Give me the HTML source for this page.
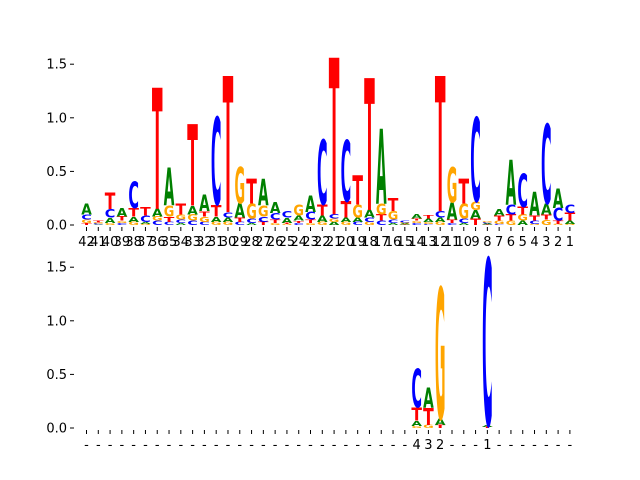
<!DOCTYPE html>
<html><head><meta charset="utf-8"><style>
html,body{margin:0;padding:0;background:#fff;}
svg{display:block;font-family:"DejaVu Sans","Liberation Sans",sans-serif;}
</style></head><body>
<svg id="chart" width="640" height="480" viewBox="0 0 640 480" xmlns="http://www.w3.org/2000/svg">
<g id="top"></g>
<g id="bot"></g>
</svg>
<script>
// Top panel data, positions listed from label 42 down to 1
const topLabels = ["42","41","40","39","38","37","36","35","34","33","32","31","30","29","28","27","26","25","24","23","22","21","20","19","18","17","16","15","14","13","12","11","10","9","8","7","6","5","4","3","2","1"];
const topA = [.10,.005,.05,.08,.05,.02,.07,.35,.02,.08,.15,.05,.04,.13,.02,.25,.10,.05,.05,.15,.06,.03,.04,.04,.07,.70,.02,.01,.04,.03,.04,.16,.02,.08,.01,.06,.42,.04,.22,.10,.18,.03];
const topC = [.05,.01,.08,.02,.25,.06,.04,.03,.03,.04,.03,.81,.05,.03,.04,.05,.06,.06,.02,.07,.60,.04,.57,.03,.04,.04,.03,.02,.02,.01,.06,.02,.04,.78,.01,.01,.09,.31,.03,.74,.12,.08];
const topG = [.03,.01,.02,.02,.03,.01,.04,.10,.05,.06,.05,.03,.03,.34,.14,.10,.02,.01,.10,.02,.03,.03,.03,.12,.03,.10,.08,.01,.02,.02,.03,.33,.14,.08,.01,.03,.04,.06,.01,.05,.01,.01];
const topT = [.02,.02,.15,.04,.08,.08,1.13,.05,.10,.76,.05,.11,1.27,.04,.23,.03,.03,.01,.02,.03,.10,1.46,.15,.27,1.23,.06,.12,.005,.02,.03,1.26,.03,.23,.06,.005,.05,.06,.07,.05,.05,.03,.07];
// Bottom panel data
const botLabels = ["-","-","-","-","-","-","-","-","-","-","-","-","-","-","-","-","-","-","-","-","-","-","-","-","-","-","-","-","4","3","2","-","-","-","1","-","-","-","-","-","-","-"];
const botA = [0,0,0,0,0,0,0,0,0,0,0,0,0,0,0,0,0,0,0,0,0,0,0,0,0,0,0,0,.05,.19,.06,0,0,0,.02,0,0,0,0,0,0,0];
const botC = [0,0,0,0,0,0,0,0,0,0,0,0,0,0,0,0,0,0,0,0,0,0,0,0,0,0,0,0,.36,0,0,0,0,0,1.55,0,0,0,0,0,0,0];
const botG = [0,0,0,0,0,0,0,0,0,0,0,0,0,0,0,0,0,0,0,0,0,0,0,0,0,0,0,0,.02,.03,1.22,0,0,0,0,0,0,0,0,0,0,0];
const botT = [0,0,0,0,0,0,0,0,0,0,0,0,0,0,0,0,0,0,0,0,0,0,0,0,0,0,0,0,.12,.16,.03,0,0,0,.01,0,0,0,0,0,0,0];
const yTicks = [0, 0.5, 1.0, 1.5];
const yTickLabels = ["0.0","0.5","1.0","1.5"];

const NS = "http://www.w3.org/2000/svg";
const colors = {A:"#008000", C:"#0000ff", G:"#ffa500", T:"#ff0000"};
const X0 = 86.5, DX = 11.79, LW = 10.6, K = 107.2;
function xPos(i){ return X0 + i*DX; }

function panel(g, y0, labels, A, C, G, T){
  const ys = v => y0 - v*K;
  for (let t=0;t<yTicks.length;t++){
    const y = ys(yTicks[t]);
    const ln = document.createElementNS(NS,"line");
    
    
    ln.setAttribute("x1",70); ln.setAttribute("x2",74); ln.setAttribute("y1",y); ln.setAttribute("y2",y);
    ln.setAttribute("stroke","#000"); ln.setAttribute("stroke-width","1");
    g.appendChild(ln);
    const tx = document.createElementNS(NS,"text");
    
    
    tx.setAttribute("x",67); tx.setAttribute("y",y+4.5); tx.setAttribute("text-anchor","end");
    tx.setAttribute("font-size","13"); tx.textContent = yTickLabels[t];
    g.appendChild(tx);
  }
  for (let i=0;i<labels.length;i++){
    const x = xPos(i);
    const tk = document.createElementNS(NS,"line");
    
    
    tk.setAttribute("x1",x); tk.setAttribute("x2",x); tk.setAttribute("y1",y0+2); tk.setAttribute("y2",y0+6);
    tk.setAttribute("stroke","#000"); tk.setAttribute("stroke-width","1");
    g.appendChild(tk);
    const lb = document.createElementNS(NS,"text");
    
    
    lb.setAttribute("x",x); lb.setAttribute("y",y0+21); lb.setAttribute("text-anchor","middle");
    lb.setAttribute("font-size","13"); lb.textContent = labels[i];
    g.appendChild(lb);
    const stack = [["A",A[i]],["C",C[i]],["G",G[i]],["T",T[i]]].filter(s=>s[1]>0).sort((a,b)=>a[1]-b[1]);
    let base = 0;
    for (const [L,v] of stack){
      const yb = ys(base), h = v*K;
      const t = document.createElementNS(NS,"text");
      
      
      t.setAttribute("x",0); t.setAttribute("y",0);
      t.setAttribute("font-size","100"); t.setAttribute("font-weight","bold");
      t.setAttribute("textLength", LW); t.setAttribute("lengthAdjust","spacingAndGlyphs");
      t.setAttribute("fill", colors[L]);
      t.setAttribute("transform","translate("+(x-LW/2)+","+yb+") scale(1,"+(h/72.9)+")");
      t.textContent = L;
      g.appendChild(t);
      base += v;
    }
  }
}
panel(document.getElementById("top"), 225, topLabels, topA, topC, topG, topT);
panel(document.getElementById("bot"), 428, botLabels, botA, botC, botG, botT);
</script>
</body></html>
